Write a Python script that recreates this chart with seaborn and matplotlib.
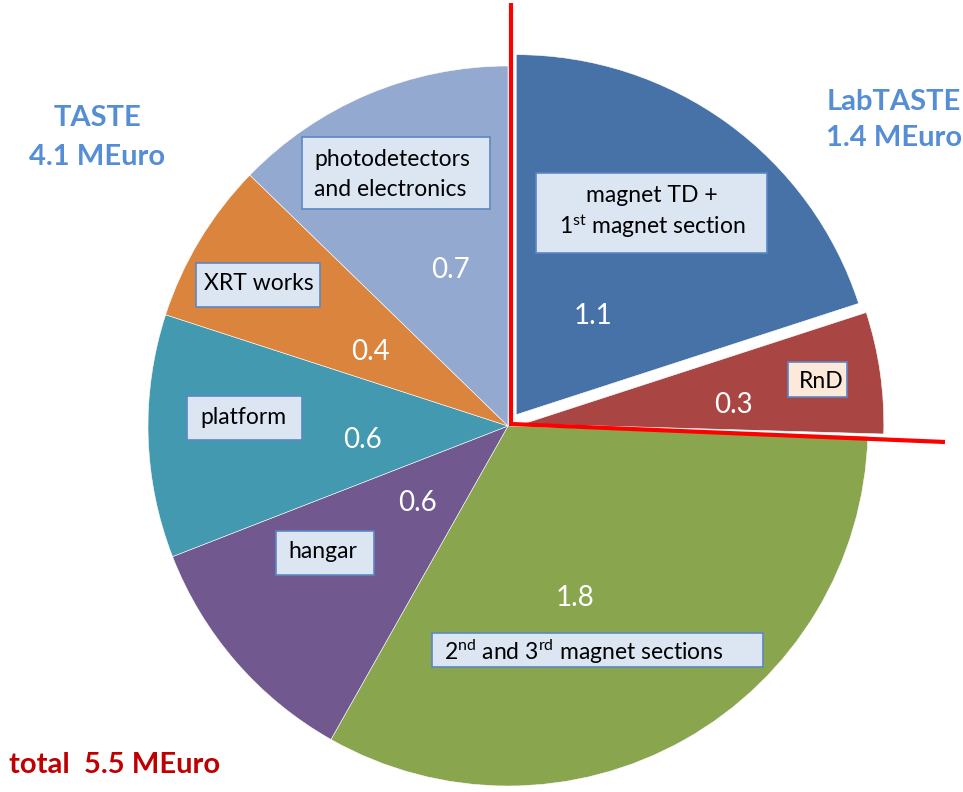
import matplotlib
matplotlib.use("Agg")
import matplotlib.pyplot as plt
import matplotlib.patches as mpatches
import seaborn as sns

# ---- data ----
categories = ["magnet TD + 1st magnet section", "RnD", "2nd and 3rd magnet sections",
              "hangar", "platform", "XRT works", "photodetectors and electronics"]
values = [1.1, 0.3, 1.8, 0.6, 0.6, 0.4, 0.7]
value_labels = ["1.1", "0.3", "1.8", "0.6", "0.6", "0.4", "0.7"]
colors = ["#4672A8", "#A94543", "#89A54E", "#71588F", "#4399B0", "#DA843E", "#93A9CF"]
explode = [14, 16, 0, 0, 0, 0, 0]

sns.set_theme(style="white")
sns.set_palette(sns.color_palette(colors))
plt.rcParams["font.family"] = ["Lato", "DejaVu Sans"]
plt.rcParams["mathtext.fontset"] = "custom"
plt.rcParams["mathtext.rm"] = "Lato"
plt.rcParams["mathtext.it"] = "Lato:italic"
plt.rcParams["mathtext.bf"] = "Lato:bold"

W, H = 963, 792
fig = plt.figure(figsize=(W / 100, H / 100), dpi=100)
ax = fig.add_axes([0, 0, 1, 1])

def Y(y):
    return H - y

ax.pie(values, colors=colors, startangle=90, counterclock=False, explode=explode,
       center=(508, Y(426)), radius=360,
       wedgeprops=dict(linewidth=0.4, edgecolor="white"), frame=False)
ax.set_xlim(0, W)
ax.set_ylim(0, H)
ax.set_aspect("equal")
ax.axis("off")

# value labels (white)
val_pos = [(593, 316), (733, 405), (575, 598), (417, 503), (362, 440), (370, 352), (450, 270)]
for lab, (x, y) in zip(value_labels, val_pos):
    ax.text(x, Y(y), lab, color="white", fontsize=20, ha="center", va="center", zorder=6)

# label boxes
box_fc = "#DCE6F2"
box_ec = "#5B87C5"
boxes = [
    (536, 173, 767, 253, box_fc),   # magnet
    (788, 362, 847, 397, "#FDE9D9"),  # RnD
    (432, 633, 763, 667, box_fc),   # 2nd/3rd
    (276, 531, 374, 575, box_fc),   # hangar
    (187, 396, 302, 440, box_fc),   # platform
    (196, 263, 320, 307, box_fc),   # XRT
    (302, 137, 490, 209, box_fc),   # photodetectors
]
for x0, y0, x1, y1, fc in boxes:
    ax.add_patch(mpatches.Rectangle((x0, Y(y1)), x1 - x0, y1 - y0, facecolor=fc,
                                    edgecolor=box_ec, linewidth=1.2, zorder=4))

fs = 16.5
ax.text(652, Y(195), "magnet TD +", fontsize=fs, ha="center", va="center", color="black", zorder=6)
ax.text(652, Y(226), r"1$^{\mathrm{st}}$ magnet section", fontsize=fs, ha="center", va="center", color="black", zorder=6)
ax.text(821, Y(382), "RnD", fontsize=fs, ha="center", va="center", color="black", zorder=6)
ax.text(444, Y(652), r"2$^{\mathrm{nd}}$ and 3$^{\mathrm{rd}}$ magnet sections", fontsize=fs,
        ha="left", va="center", color="black", zorder=6)
ax.text(323, Y(552), "hangar", fontsize=fs, ha="center", va="center", color="black", zorder=6)
ax.text(243, Y(418), "platform", fontsize=fs, ha="center", va="center", color="black", zorder=6)
ax.text(259, Y(284), "XRT works", fontsize=fs, ha="center", va="center", color="black", zorder=6)
ax.text(314, Y(160), "photodetectors", fontsize=fs, ha="left", va="center", color="black", zorder=6)
ax.text(314, Y(190), "and electronics", fontsize=fs, ha="left", va="center", color="black", zorder=6)

# headings
blue = "#558ED5"
hfs = 21
ax.text(97, Y(118), "TASTE", fontsize=hfs, fontweight="bold", color=blue, ha="center", va="center")
ax.text(97, Y(157), "4.1 MEuro", fontsize=hfs, fontweight="bold", color=blue, ha="center", va="center")
ax.text(894, Y(102), "LabTASTE", fontsize=hfs, fontweight="bold", color=blue, ha="center", va="center")
ax.text(894, Y(138), "1.4 MEuro", fontsize=hfs, fontweight="bold", color=blue, ha="center", va="center")
ax.text(9, Y(765), "total  5.5 MEuro", fontsize=hfs, fontweight="bold", color="#C00000", ha="left", va="center")

# red separator line
ax.plot([511, 511, 945], [Y(3), Y(424), Y(442)], color="#FF0000", lw=3,
        solid_joinstyle="miter", solid_capstyle="butt", zorder=7)

fig.savefig("out.png", dpi=100)
